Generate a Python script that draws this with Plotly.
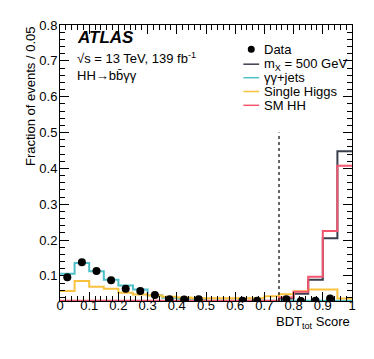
import plotly.graph_objects as go

# BDT_tot score histogram, bins of 0.05
bin_edges = [0.0, 0.05, 0.1, 0.15, 0.2, 0.25, 0.3, 0.35, 0.4, 0.45, 0.5,
             0.55, 0.6, 0.65, 0.7, 0.75, 0.8, 0.85, 0.9, 0.95, 1.0]
bin_centers = [0.025, 0.075, 0.125, 0.175, 0.225, 0.275, 0.325, 0.375, 0.425, 0.475,
               0.525, 0.575, 0.625, 0.675, 0.725, 0.775, 0.825, 0.875, 0.925, 0.975]

mx500 = [0.030, 0.030, 0.030, 0.030, 0.030, 0.030, 0.030, 0.030, 0.030, 0.030,
         0.030, 0.030, 0.030, 0.030, 0.030, 0.037, 0.050, 0.089, 0.205, 0.448]
gg_jets = [0.106, 0.136, 0.113, 0.089, 0.073, 0.062, 0.046, 0.039, 0.036, 0.034,
           0.031, 0.031, 0.031, 0.031, 0.031, 0.031, 0.031, 0.031, 0.031, 0.031]
single_higgs = [0.058, 0.086, 0.070, 0.064, 0.053, 0.048, 0.045, 0.042, 0.040, 0.038,
                0.038, 0.038, 0.038, 0.038, 0.043, 0.049, 0.057, 0.062, 0.062, 0.037]
sm_hh = [0.0305, 0.0305, 0.0305, 0.0305, 0.0305, 0.0305, 0.0305, 0.0305, 0.0305, 0.0305,
         0.0305, 0.0305, 0.0305, 0.0305, 0.0305, 0.040, 0.056, 0.098, 0.225, 0.407]
data = [0.096, 0.138, 0.114, 0.088, 0.064, 0.058, 0.047, 0.035, 0.034, 0.035,
        None, None, 0.031, 0.031, None, 0.035, 0.030, 0.031, 0.037, None]

cut_value = 0.75
cut_top = 0.5

x_ticks = [0, 0.1, 0.2, 0.3, 0.4, 0.5, 0.6, 0.7, 0.8, 0.9, 1.0]
x_ticklabels = ["0", "0.1", "0.2", "0.3", "0.4", "0.5", "0.6", "0.7", "0.8", "0.9", "1"]
y_ticks = [0.1, 0.2, 0.3, 0.4, 0.5, 0.6, 0.7, 0.8]
y_ticklabels = ["0.1", "0.2", "0.3", "0.4", "0.5", "0.6", "0.7", "0.8"]

c_dark = "#3a3e4e"
c_cyan = "#4fbfc8"
c_orange = "#f9c23e"
c_red = "#f2566f"
FONT = "Liberation Sans"


def step(vals):
    return list(vals) + [vals[-1]]


fig = go.Figure()
fig.add_trace(go.Scatter(x=bin_edges, y=step(mx500), mode="lines", line_shape="hv",
                         line=dict(color=c_dark, width=2), showlegend=False))
fig.add_trace(go.Scatter(x=bin_edges, y=step(gg_jets), mode="lines", line_shape="hv",
                         line=dict(color=c_cyan, width=2), showlegend=False))
fig.add_trace(go.Scatter(x=bin_edges, y=step(single_higgs), mode="lines", line_shape="hv",
                         line=dict(color=c_orange, width=2), showlegend=False))
fig.add_trace(go.Scatter(x=bin_edges, y=step(sm_hh), mode="lines", line_shape="hv",
                         line=dict(color=c_red, width=2), showlegend=False))
fig.add_trace(go.Scatter(x=[cut_value, cut_value], y=[0.03, cut_top], mode="lines",
                         line=dict(color="black", width=1.2, dash="dot"), showlegend=False))
fig.add_trace(go.Scatter(x=bin_centers, y=data, mode="markers",
                         marker=dict(color="black", size=8), showlegend=False))

axis_common = dict(showline=True, linecolor="black", linewidth=1, mirror="allticks",
                   ticks="inside", ticklen=9, tickcolor="black", showgrid=False,
                   zeroline=False, tickfont=dict(family=FONT, size=13, color="black"))
fig.update_xaxes(range=[0, 1], tickvals=x_ticks, ticktext=x_ticklabels, ticklabelstandoff=-8,
                 minor=dict(ticks="inside", ticklen=5, dtick=0.02, tickcolor="black", showgrid=False),
                 **axis_common)
fig.update_yaxes(range=[0.03, 0.8], tickvals=y_ticks, ticktext=y_ticklabels, ticklabelstandoff=-1,
                 minor=dict(ticks="inside", ticklen=5, dtick=0.02, tick0=0, tickcolor="black", showgrid=False),
                 **axis_common)

# text labels
ann = [
    dict(text="<b><i>ATLAS</i></b>", x=0.051, y=0.954, size=17),
    dict(text="√s = 13 TeV, 139 fb<sup>-1</sup>", x=0.051, y=0.879, size=13),
    dict(text="HH→bb\u0304γγ", x=0.051, y=0.816, size=13),
]
for a in ann:
    fig.add_annotation(text=a["text"], x=a["x"], y=a["y"], xref="paper", yref="paper",
                       xanchor="left", yanchor="middle", showarrow=False,
                       font=dict(family=FONT, size=a["size"], color="black"))

# legend drawn by hand (ROOT-style compact legend)
legend_items = [("Data", None), ("m<sub>X</sub> = 500 GeV", c_dark), ("γγ+jets", c_cyan),
                ("Single Higgs", c_orange), ("SM HH", c_red)]
leg_y = [0.912, 0.858, 0.809, 0.759, 0.709]
for (label, col), yy in zip(legend_items, leg_y):
    fig.add_annotation(text=label, x=0.6926, y=yy, xref="paper", yref="paper",
                       xanchor="left", yanchor="middle", showarrow=False,
                       font=dict(family=FONT, size=13, color="black"))
    if col is None:
        fig.add_shape(type="circle", xref="paper", yref="paper", xsizemode="pixel", ysizemode="pixel",
                      xanchor=0.655, yanchor=yy, x0=-3.5, x1=3.5, y0=-3.5, y1=3.5,
                      fillcolor="black", line=dict(color="black", width=0))
    else:
        fig.add_shape(type="line", xref="paper", yref="paper", x0=0.628, x1=0.682, y0=yy, y1=yy,
                      line=dict(color=col, width=1.5))

fig.add_annotation(text="BDT<sub>tot</sub> Score", x=1.0, y=-0.078, xref="paper", yref="paper",
                   xanchor="right", yanchor="middle", showarrow=False,
                   font=dict(family=FONT, size=13, color="black"))
fig.add_annotation(text="Fraction of events / 0.05", x=-0.101, y=1.0, xref="paper", yref="paper",
                   xanchor="center", yanchor="top", textangle=-90, showarrow=False,
                   font=dict(family=FONT, size=13, color="black"))

# page body adds an 8px offset, so the figure is a bit smaller than the window
fig.update_layout(width=358, height=343, margin=dict(l=52, r=10, t=11, b=50),
                  plot_bgcolor="white", paper_bgcolor="white", showlegend=False)
fig.write_html("out.html")
